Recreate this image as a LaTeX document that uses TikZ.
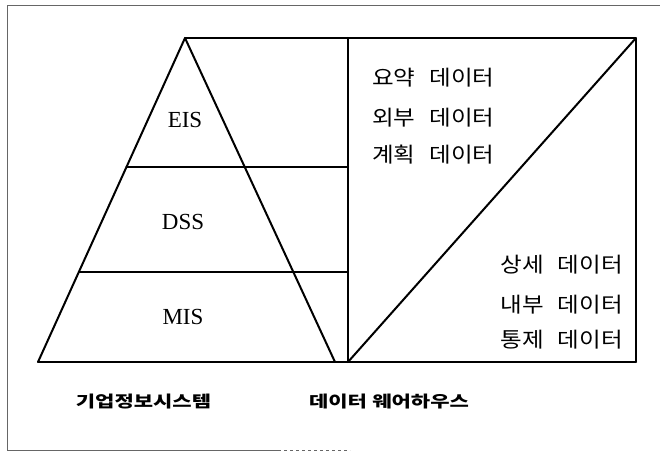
\documentclass[tikz,border=0pt]{standalone}
\usepackage{fontspec}
\setmainfont{Liberation Serif}
\newfontfamily\kr{Noto Sans CJK KR}
\tikzset{
  main/.style={line width=2pt, line cap=round, line join=round},
  frame/.style={line width=0.7pt, draw=black!60},
  lvl/.style={font=\fontsize{23}{23}\selectfont, inner sep=0pt},
  dat/.style={font=\kr\fontsize{21}{21}\selectfont, inner sep=0pt, xscale=1.12},
  captxt/.style={font=\kr\bfseries\fontsize{20}{20}\selectfont, inner sep=0pt, yscale=0.8, xscale=1.05},
}
\begin{document}
\begin{tikzpicture}[x=1pt,y=-1pt]
\useasboundingbox (0,0) rectangle (662,452);
% outer frame
\draw[frame] (7,450) -- (7,5) -- (660,5);
\draw[frame] (7,450) -- (278,450);
\draw[frame, dashed] (278,450) -- (350,450);
% coordinates
\coordinate (A) at (185,38);
\coordinate (BL) at (38,362);
\coordinate (BR) at (335,362);
\coordinate (TL) at (348,38);
\coordinate (TR) at (636,38);
\coordinate (LL) at (348,362);
\coordinate (LR) at (636,362);
\coordinate (L1) at (126.5,167);
\coordinate (R1) at (348,167);
\coordinate (L2) at (79,272);
\coordinate (R2) at (348,272);
% pyramid
\draw[main] (BL) -- (A) -- (BR);
\draw[main] (BL) -- (LR);
\draw[main] (A) -- (TR) -- (LR);
\draw[main] (TL) -- (LL);
\draw[main] (LL) -- (TR);
\draw[main] (L1) -- (R1);
\draw[main] (L2) -- (R2);
% labels
\node[lvl] (eis) at (185,120) {EIS};
\node[lvl] (dss) at (183,222) {DSS};
\node[lvl] (mis) at (183,317) {MIS};
\node[dat, anchor=west] (d1) at (372,78) {요약\hspace{0.6em}데이터};
\node[dat, anchor=west] (d2) at (372,118) {외부\hspace{0.6em}데이터};
\node[dat, anchor=west] (d3) at (372,155) {계획\hspace{0.6em}데이터};
\node[dat, anchor=east] (d4) at (623,265) {상세\hspace{0.6em}데이터};
\node[dat, anchor=east] (d5) at (623,305) {내부\hspace{0.6em}데이터};
\node[dat, anchor=east] (d6) at (623,340) {통제\hspace{0.6em}데이터};
\node[captxt] (c1) at (143.5,402) {기업정보시스템};
\node[captxt] (c2) at (389,402) {데이터\hspace{0.25em}웨어하우스};
\end{tikzpicture}
\end{document}
